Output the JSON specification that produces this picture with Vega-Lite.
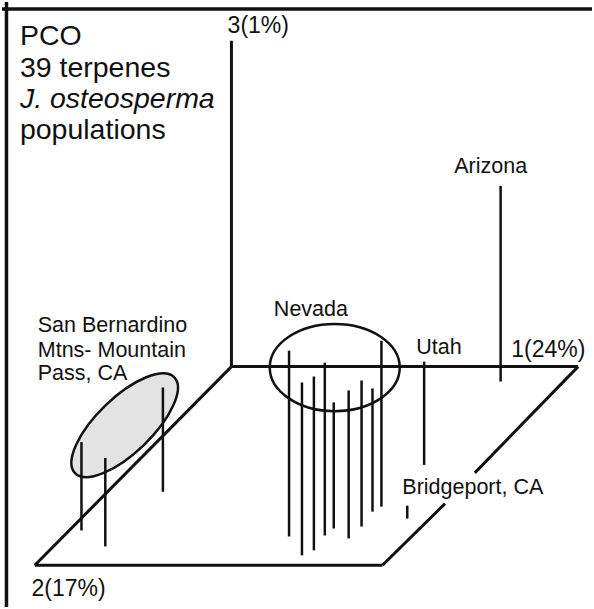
{
  "$schema": "https://vega.github.io/schema/vega-lite/v6.json",
  "width": 594,
  "height": 609,
  "autosize": {"type": "fit", "contains": "padding"},
  "padding": 0,
  "background": "white",
  "config": {"view": {"stroke": null}, "text": {"font": "Liberation Sans", "color": "#111"}},
  "datasets": {
    "segments": [
      {"x": 0, "y": 7, "x2": 594, "y2": 7, "kind": "frame"},
      {"x": 4.5, "y": 0, "x2": 4.5, "y2": 609, "kind": "frame"},
      {"x": 231, "y": 39, "x2": 231, "y2": 367, "kind": "axis"},
      {"x": 231, "y": 367, "x2": 580, "y2": 367, "kind": "axis"},
      {"x": 231, "y": 367, "x2": 33, "y2": 567, "kind": "axis"},
      {"x": 33, "y": 567, "x2": 383, "y2": 567, "kind": "axis"},
      {"x": 580, "y": 367, "x2": 476, "y2": 474, "kind": "axis"},
      {"x": 446, "y": 505, "x2": 383, "y2": 567, "kind": "axis"},
      {"x": 80, "y": 443, "x2": 80, "y2": 532, "kind": "drop"},
      {"x": 104, "y": 459, "x2": 104, "y2": 548, "kind": "drop"},
      {"x": 162, "y": 388, "x2": 162, "y2": 493, "kind": "drop"},
      {"x": 289, "y": 351, "x2": 289, "y2": 538, "kind": "drop"},
      {"x": 302, "y": 383, "x2": 302, "y2": 557, "kind": "drop"},
      {"x": 314, "y": 377, "x2": 314, "y2": 552, "kind": "drop"},
      {"x": 325, "y": 363, "x2": 325, "y2": 537, "kind": "drop"},
      {"x": 334, "y": 403, "x2": 334, "y2": 530, "kind": "drop"},
      {"x": 349, "y": 391, "x2": 349, "y2": 540, "kind": "drop"},
      {"x": 362, "y": 381, "x2": 362, "y2": 528, "kind": "drop"},
      {"x": 373, "y": 389, "x2": 373, "y2": 513, "kind": "drop"},
      {"x": 382, "y": 341, "x2": 382, "y2": 508, "kind": "drop"},
      {"x": 425, "y": 362, "x2": 425, "y2": 466, "kind": "drop"},
      {"x": 408, "y": 507, "x2": 408, "y2": 520, "kind": "drop"},
      {"x": 502, "y": 185, "x2": 502, "y2": 382, "kind": "drop"}
    ],
    "clusters": [
      {"region": "San Bernardino", "x": 123.5, "y": 426},
      {"region": "Nevada", "x": 335, "y": 368}
    ],
    "labels": [
      {"x": 18, "y": 43, "text": "PCO", "kind": "title"},
      {"x": 18, "y": 75, "text": "39 terpenes", "kind": "title"},
      {"x": 18, "y": 107, "text": "J. osteosperma", "kind": "italic"},
      {"x": 18, "y": 138, "text": "populations", "kind": "title"},
      {"x": 36, "y": 332, "text": "San Bernardino", "kind": "left"},
      {"x": 36, "y": 357, "text": "Mtns- Mountain", "kind": "left"},
      {"x": 36, "y": 381, "text": "Pass, CA", "kind": "left"},
      {"x": 258, "y": 31, "text": "3(1%)", "kind": "axis"},
      {"x": 550, "y": 357, "text": "1(24%)", "kind": "axis"},
      {"x": 67, "y": 598, "text": "2(17%)", "kind": "axis"},
      {"x": 492, "y": 172, "text": "Arizona", "kind": "region"},
      {"x": 311, "y": 316, "text": "Nevada", "kind": "region"},
      {"x": 440, "y": 354, "text": "Utah", "kind": "region"},
      {"x": 474, "y": 495, "text": "Bridgeport, CA", "kind": "region"}
    ]
  },
  "encoding": {
    "x": {"field": "x", "type": "quantitative", "scale": {"domain": [0, 594], "nice": false, "zero": false}, "axis": null},
    "y": {"field": "y", "type": "quantitative", "scale": {"domain": [0, 609], "nice": false, "zero": false, "reverse": true}, "axis": null}
  },
  "layer": [
    {
      "data": {"name": "clusters"},
      "transform": [{"filter": "datum.region === 'San Bernardino'"}],
      "mark": {"type": "point", "shape": "M-1,0A1,0.4,0,1,1,1,0A1,0.4,0,1,1,-1,0Z", "size": 19044, "angle": -44, "filled": true, "fill": "#e3e3e3", "stroke": "#111", "strokeWidth": 2.5, "opacity": 1, "fillOpacity": 1}
    },
    {
      "data": {"name": "clusters"},
      "transform": [{"filter": "datum.region === 'Nevada'"}],
      "mark": {"type": "point", "shape": "M-1,0A1,0.67,0,1,1,1,0A1,0.67,0,1,1,-1,0Z", "size": 16900, "filled": false, "stroke": "#111", "strokeWidth": 2.5, "opacity": 1}
    },
    {
      "data": {"name": "segments"},
      "mark": {"type": "rule", "color": "#111"},
      "encoding": {
        "x2": {"field": "x2"},
        "y2": {"field": "y2"},
        "strokeWidth": {"field": "kind", "type": "nominal", "scale": {"domain": ["frame", "axis", "drop"], "range": [3.5, 2.5, 2.5]}, "legend": null}
      }
    },
    {
      "data": {"name": "labels"},
      "transform": [{"filter": "datum.kind === 'title'"}],
      "mark": {"type": "text", "align": "left", "baseline": "alphabetic", "fontSize": 28.5},
      "encoding": {"text": {"field": "text"}}
    },
    {
      "data": {"name": "labels"},
      "transform": [{"filter": "datum.kind === 'italic'"}],
      "mark": {"type": "text", "align": "left", "baseline": "alphabetic", "fontSize": 28.5, "fontStyle": "italic"},
      "encoding": {"text": {"field": "text"}}
    },
    {
      "data": {"name": "labels"},
      "transform": [{"filter": "datum.kind === 'left'"}],
      "mark": {"type": "text", "align": "left", "baseline": "alphabetic", "fontSize": 21.5},
      "encoding": {"text": {"field": "text"}}
    },
    {
      "data": {"name": "labels"},
      "transform": [{"filter": "datum.kind === 'region'"}],
      "mark": {"type": "text", "align": "center", "baseline": "alphabetic", "fontSize": 21.5},
      "encoding": {"text": {"field": "text"}}
    },
    {
      "data": {"name": "labels"},
      "transform": [{"filter": "datum.kind === 'axis'"}],
      "mark": {"type": "text", "align": "center", "baseline": "alphabetic", "fontSize": 23},
      "encoding": {"text": {"field": "text"}}
    }
  ]
}
